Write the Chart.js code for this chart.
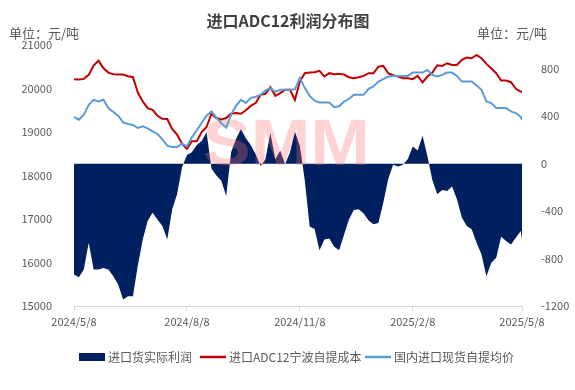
<!DOCTYPE html>
<html><head><meta charset="utf-8">
<script src="https://cdn.jsdelivr.net/npm/chart.js@4.4.1/dist/chart.umd.min.js"></script>
<style>html,body{margin:0;padding:0;background:#fff;}#wrap{width:575px;height:390px;position:relative;}</style>
</head><body><div id="wrap"><canvas id="c" width="575" height="390"></canvas></div>
<script>
const dates = ["2024-05-08","2024-05-12","2024-05-16","2024-05-20","2024-05-24","2024-05-28",
"2024-06-01","2024-06-05","2024-06-09","2024-06-13","2024-06-17","2024-06-21","2024-06-25","2024-06-29",
"2024-07-03","2024-07-07","2024-07-11","2024-07-15","2024-07-19","2024-07-23","2024-07-27","2024-07-31",
"2024-08-04","2024-08-08","2024-08-12","2024-08-16","2024-08-20","2024-08-24","2024-08-28",
"2024-09-01","2024-09-05","2024-09-09","2024-09-13","2024-09-17","2024-09-21","2024-09-25","2024-09-29",
"2024-10-03","2024-10-07","2024-10-11","2024-10-15","2024-10-19","2024-10-23","2024-10-27","2024-10-31",
"2024-11-04","2024-11-08","2024-11-12","2024-11-16","2024-11-20","2024-11-24","2024-11-28",
"2024-12-02","2024-12-06","2024-12-10","2024-12-14","2024-12-18","2024-12-22","2024-12-26","2024-12-30",
"2025-01-03","2025-01-07","2025-01-11","2025-01-15","2025-01-19","2025-01-23","2025-01-27","2025-01-31",
"2025-02-04","2025-02-08","2025-02-12","2025-02-16","2025-02-20","2025-02-24","2025-02-28",
"2025-03-04","2025-03-08","2025-03-12","2025-03-16","2025-03-20","2025-03-24","2025-03-28",
"2025-04-01","2025-04-05","2025-04-09","2025-04-13","2025-04-17","2025-04-21","2025-04-25","2025-04-29",
"2025-05-03","2025-05-07","2025-05-08"];

// 进口货实际利润 (right axis)
const profit = [-935,-957,-893,-667,-893,-893,-880,-893,-949,-1019,-1146,-1118,-1118,-859,-639,-484,-413,-470,-526,-639,
-385,-258,-32,72,95,157,190,264,-41,-100,-145,-272,95,207,292,213,157,80,-19,38,
258,38,108,-5,95,269,151,-140,-530,-550,-730,-640,-630,-700,-730,-600,-470,-390,-385,-420,
-480,-510,-500,-330,-130,-10,-25,-10,40,145,110,235,60,-140,-258,-222,-230,-193,-300,-455,
-526,-554,-667,-766,-949,-836,-794,-616,-653,-681,-625,-568,-639];

// 进口ADC12宁波自提成本 (left axis)
const cost = [20215,20205,20221,20313,20526,20640,20466,20366,20329,20320,20320,20283,20260,19908,19702,19550,19511,19374,19305,19298,
19069,18939,18733,18611,18786,18786,19000,19114,19420,19321,19290,19321,19420,19435,19420,19500,19600,19664,19855,19878,
20031,19832,19894,19970,19970,19740,20160,20352,20366,20374,20405,20275,20352,20329,20336,20320,20260,20237,20260,20290,
20352,20352,20504,20519,20352,20306,20275,20237,20237,20214,20290,20140,20275,20366,20535,20519,20581,20542,20542,20657,
20710,20695,20771,20695,20565,20458,20352,20183,20183,20145,19992,19931,19908];

// 国内进口现货自提均价 (left axis)
const price = [19344,19282,19397,19626,19740,19702,19740,19550,19459,19374,19221,19184,19161,19092,19129,19083,19015,18955,18830,18687,
18657,18657,18733,18671,18877,19038,19207,19374,19473,19330,19200,19100,19400,19600,19740,19670,19786,19810,19855,19950,
20015,19925,19970,19970,19970,19980,20245,20015,19830,19720,19680,19680,19680,19570,19590,19700,19760,19855,19855,19855,
19992,20046,20160,20214,20275,20290,20290,20290,20290,20366,20366,20366,20428,20313,20275,20313,20366,20366,20290,20160,
20160,20160,20069,19970,19702,19664,19550,19550,19550,19473,19435,19344,19282];

const xTickDates = ["2024-05-08","2024-08-08","2024-11-08","2025-02-08","2025-05-08"];
const leftTicks = [15000,16000,17000,18000,19000,20000,21000];
const rightTicks = [-1200,-800,-400,0,400,800];
const seriesNames = ["进口货实际利润","进口ADC12宁波自提成本","国内进口现货自提均价"];
const chartTitle = "进口ADC12利润分布图";
const unitText = "单位：元/吨";

const FONT = "'Noto Sans CJK SC','Noto Sans',sans-serif";
const DAY = 86400000;
const t0 = Date.parse(dates[0]);
const dayOf = d => Math.round((Date.parse(d) - t0) / DAY);
const pts = arr => arr.map((v, i) => ({x: dayOf(dates[i]), y: v}));
const fmt = v => { const d = new Date(t0 + v * DAY); return d.getUTCFullYear() + "/" + (d.getUTCMonth() + 1) + "/" + d.getUTCDate(); };

const decor = {
  id: 'decor',
  afterDatasetDraw(chart, args) {
    if (args.index !== 0) return;
    const ctx = chart.ctx;
    ctx.save();
    ctx.font = "bold 64px 'Liberation Sans',sans-serif";
    const w = ctx.measureText("SMM").width;
    ctx.translate(203, 165);
    ctx.scale(167 / w, 1);
    ctx.fillStyle = "rgba(255,110,110,0.3)";
    ctx.textBaseline = "alphabetic";
    ctx.fillText("SMM", 0, 0);
    ctx.restore();
  },
  afterDraw(chart) {
    const ctx = chart.ctx;
    ctx.save();
    ctx.fillStyle = "#404040";
    ctx.font = "bold 16px " + FONT;
    ctx.textAlign = "center"; ctx.textBaseline = "middle";
    ctx.fillText(chartTitle, 288, 21);
    ctx.font = "13px " + FONT;
    ctx.fillStyle = "#595959";
    ctx.textAlign = "left";
    ctx.fillText(unitText, 9, 33);
    ctx.fillText(unitText, 477, 33);
    // legend
    const ly = 357;
    ctx.font = "12px " + FONT;
    ctx.fillStyle = "#002060";
    ctx.fillRect(79, ly - 4, 26, 8);
    ctx.fillStyle = "#595959";
    ctx.fillText(seriesNames[0], 108, ly);
    ctx.strokeStyle = "#C00000"; ctx.lineWidth = 2.5;
    ctx.beginPath(); ctx.moveTo(200, ly); ctx.lineTo(226, ly); ctx.stroke();
    ctx.fillText(seriesNames[1], 229, ly);
    ctx.strokeStyle = "#5B9BD5";
    ctx.beginPath(); ctx.moveTo(365, ly); ctx.lineTo(391, ly); ctx.stroke();
    ctx.fillText(seriesNames[2], 394, ly);
    ctx.restore();
  }
};

new Chart(document.getElementById('c'), {
  type: 'line',
  data: {
    datasets: [
      {label: seriesNames[0], data: pts(profit), yAxisID: 'y1', fill: 'origin', backgroundColor: '#002060',
       borderColor: 'rgba(0,0,0,0)', borderWidth: 0, pointRadius: 0, order: 3},
      {label: seriesNames[1], data: pts(cost), yAxisID: 'y', fill: false, borderColor: '#C00000',
       borderWidth: 2, pointRadius: 0, order: 2},
      {label: seriesNames[2], data: pts(price), yAxisID: 'y', fill: false, borderColor: '#5B9BD5',
       borderWidth: 2, pointRadius: 0, order: 1}
    ]
  },
  options: {
    responsive: false, animation: false, devicePixelRatio: 1,
    layout: {padding: {top: 45, bottom: 54, left: 0, right: 0}},
    plugins: {legend: {display: false}, title: {display: false}, tooltip: {enabled: false}},
    elements: {line: {tension: 0}},
    scales: {
      x: {
        type: 'linear', position: 'bottom', min: 0, max: dayOf(dates[dates.length - 1]),
        afterBuildTicks: a => { a.ticks = xTickDates.map(d => ({value: dayOf(d)})); },
        afterFit: s => { s.height = 30; },
        grid: {drawOnChartArea: false, drawTicks: true, tickLength: 5, color: '#D9D9D9'},
        border: {color: '#D9D9D9'},
        ticks: {callback: v => fmt(v), font: {family: FONT, size: 11}, color: '#595959', padding: 4, maxRotation: 0, autoSkip: false}
      },
      y: {
        position: 'left', min: leftTicks[0], max: leftTicks[leftTicks.length - 1],
        afterBuildTicks: a => { a.ticks = leftTicks.map(v => ({value: v})); },
        afterFit: s => { s.width = 74; },
        grid: {display: false}, border: {display: false},
        ticks: {callback: v => String(v), font: {family: FONT, size: 11}, color: '#595959', padding: 14}
      },
      y1: {
        position: 'right', min: -1200, max: 1000,
        afterBuildTicks: a => { a.ticks = rightTicks.map(v => ({value: v})); },
        afterFit: s => { s.width = 53; },
        grid: {display: false}, border: {display: false},
        ticks: {callback: v => String(v), font: {family: FONT, size: 11}, color: '#595959', padding: 11}
      }
    }
  },
  plugins: [decor]
});
</script></body></html>
